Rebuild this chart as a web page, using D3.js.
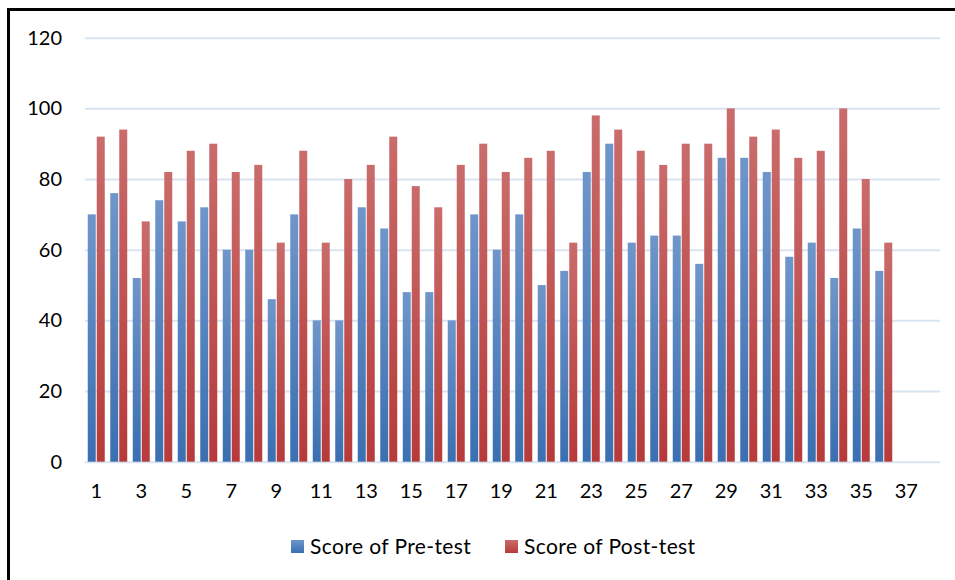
<!DOCTYPE html>
<html>
	<head>
		<title>Pre-test and Post-test scores</title>
		<style type="text/css">
			body {
				margin: 0px;
				background-color: #fff;
			}
			svg text {
				font-family: Lato, "Open Sans", sans-serif;
				fill: #000;
			}
		</style>
		<script src="https://cdn.jsdelivr.net/npm/d3@7"></script>
	</head>
	<body>
		<script type="text/javascript">
			// category numbers 1..38 (only odd ones get a label)
			var students = d3.range(1, 39);
			var preTest = [70, 76, 52, 74, 68, 72, 60, 60, 46, 70, 40, 40, 72, 66, 48, 48, 40, 70, 60, 70,
				50, 54, 82, 90, 62, 64, 64, 56, 86, 86, 82, 58, 62, 52, 66, 54];
			var postTest = [92, 94, 68, 82, 88, 90, 82, 84, 62, 88, 62, 80, 84, 92, 78, 72, 84, 90, 82, 86,
				88, 62, 98, 94, 88, 84, 90, 90, 100, 92, 94, 86, 88, 100, 80, 62];
			var yTicks = [0, 20, 40, 60, 80, 100, 120];
			var seriesNames = ["Score of Pre-test", "Score of Post-test"];

			var width = 955, height = 580;
			var svg = d3.select("body").append("svg")
				.attr("width", width)
				.attr("height", height);

			// gradients like the office-style bars
			var defs = svg.append("defs");
			function gradient(id, top, bottom) {
				var g = defs.append("linearGradient")
					.attr("id", id)
					.attr("x1", 0).attr("y1", 0)
					.attr("x2", 0).attr("y2", 1);
				g.append("stop").attr("offset", "0%").attr("stop-color", top);
				g.append("stop").attr("offset", "100%").attr("stop-color", bottom);
			}
			gradient("blueGrad", "#6f96ca", "#3a6fb1");
			gradient("redGrad", "#c96c6b", "#b73a3a");
			var fills = ["url(#blueGrad)", "url(#redGrad)"];

			// frame (left and top edges only show in the picture)
			svg.append("rect")
				.attr("x", 8.5)
				.attr("y", 9.5)
				.attr("width", 960)
				.attr("height", 600)
				.style("fill", "none")
				.style("stroke", "#000")
				.style("stroke-width", 3);

			var x = d3.scaleBand()
				.domain(students)
				.range([85, 940]);
			var y = d3.scaleLinear()
				.domain([0, 120])
				.range([461.7, 37.7]);

			// gridlines
			svg.append("g")
				.attr("transform", "translate(85,0)")
				.call(d3.axisLeft(y).tickValues(yTicks).tickSize(-855).tickFormat(""))
				.call(function(g) {
					g.select(".domain").remove();
					g.selectAll("line").style("stroke", "#d9e4f2").style("stroke-width", 2);
				});

			// y labels
			svg.append("g")
				.attr("transform", "translate(85,0)")
				.call(d3.axisLeft(y).tickValues(yTicks).tickSize(0).tickPadding(23))
				.call(function(g) {
					g.select(".domain").remove();
					g.selectAll("text").style("font-size", "20px").attr("font-family", null);
				});

			// bars
			var barW = 8;
			var groups = svg.append("g").selectAll("g")
				.data(preTest.map(function(d, i) { return {n: students[i], vals: [d, postTest[i]]}; }))
				.enter()
					.append("g")
					.attr("transform", function(d) {
						return "translate(" + (x(d.n) + x.bandwidth() / 2) + ",0)";
					});
			groups.selectAll("rect")
				.data(function(d) { return d.vals; })
				.enter()
					.append("rect")
					.attr("x", function(d, i) { return i === 0 ? -barW - 0.5 : 0.5; })
					.attr("y", function(d) { return y(d); })
					.attr("width", barW)
					.attr("height", function(d) { return y(0) - y(d); })
					.style("fill", function(d, i) { return fills[i]; });

			// x labels, every second category
			svg.append("g")
				.attr("transform", "translate(0," + y(0) + ")")
				.call(d3.axisBottom(x)
					.tickValues(students.filter(function(d) { return d % 2 === 1; }))
					.tickSize(0)
					.tickPadding(22))
				.call(function(g) {
					g.select(".domain").remove();
					g.selectAll("text").style("font-size", "20px").attr("font-family", null);
				});

			// legend
			var legendX = [291, 505];
			var legend = svg.append("g").selectAll("g")
				.data(seriesNames)
				.enter()
					.append("g")
					.attr("transform", function(d, i) { return "translate(" + legendX[i] + ",540)"; });
			legend.append("rect")
				.attr("width", 13)
				.attr("height", 13)
				.style("fill", function(d, i) { return fills[i]; });
			legend.append("text")
				.attr("x", 19)
				.attr("y", 13.5)
				.style("font-size", "21px")
				.style("letter-spacing", "0.4px")
				.text(function(d) { return d; });
		</script>
	</body>
</html>
